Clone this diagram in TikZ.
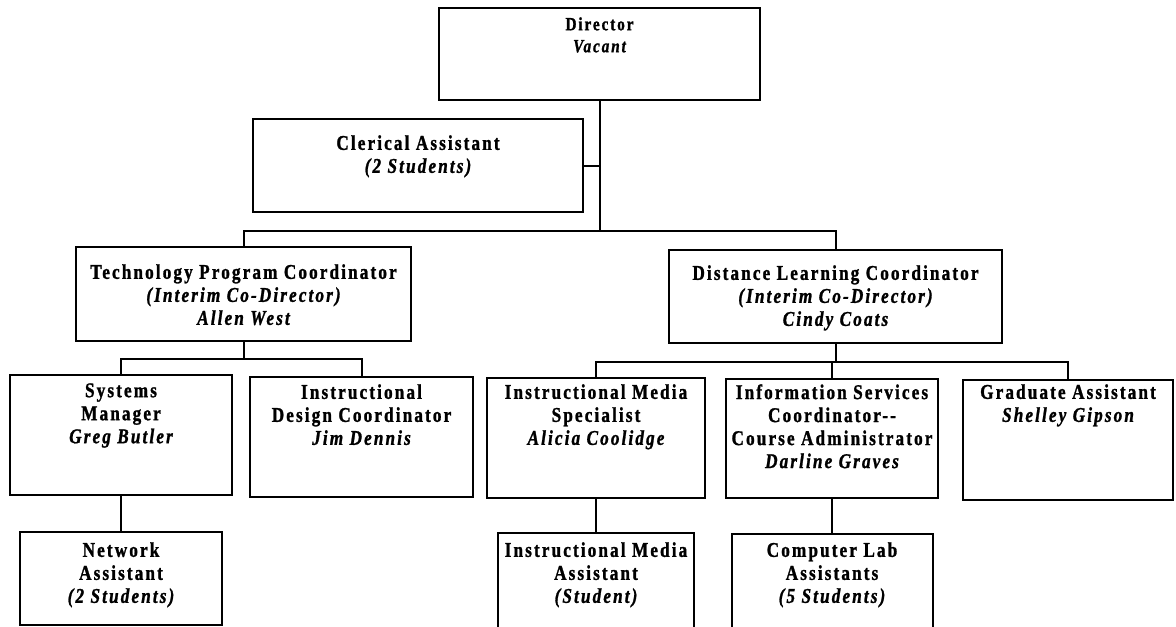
\documentclass[tikz,border=0pt]{standalone}
\usepackage{fontspec}
\setmainfont{Liberation Serif}[FakeStretch=0.82,LetterSpace=10,
  BoldFeatures={FakeBold=1.2},BoldItalicFeatures={FakeBold=1.2}]
\begin{document}
\begin{tikzpicture}[x=0.75pt,y=-0.75pt,
  box/.style={draw=black,line width=1.5pt,inner sep=0pt,fill=white},
  lbl/.style={anchor=north,align=center,inner sep=0pt,text=black,
    font=\fontsize{15.75pt}{17.25pt}\selectfont},
  lbls/.style={anchor=north,align=center,inner sep=0pt,text=black,
    font=\fontsize{14pt}{16.5pt}\selectfont},
  conn/.style={draw=black,line width=1.5pt}]
\clip (0,0) rectangle (1176,626);
\fill[white] (0,0) rectangle (1176,626);

% boxes
\node[box,minimum width=240.75pt,minimum height=69pt]   (dir)  at (599.5,54) {};
\node[box,minimum width=247.5pt,minimum height=69.75pt] (cler) at (418,165.5) {};
\node[box,minimum width=251.25pt,minimum height=70.5pt] (tech) at (243.5,294) {};
\node[box,minimum width=249.75pt,minimum height=69.75pt](dl)   at (835.5,296.5) {};
\node[box,minimum width=166.5pt,minimum height=90pt]    (sys)  at (121,435) {};
\node[box,minimum width=167.25pt,minimum height=90pt]   (idc)  at (361.5,437) {};
\node[box,minimum width=163.5pt,minimum height=90pt]    (ims)  at (596,438) {};
\node[box,minimum width=159pt,minimum height=89.25pt]   (isc)  at (832,438.5) {};
\node[box,minimum width=157.5pt,minimum height=90pt]    (ga)   at (1068,440) {};
\node[box,minimum width=151.5pt,minimum height=69.75pt] (net)  at (121,578.5) {};
\node[box,minimum width=147pt,minimum height=84pt]      (ima)  at (596,589) {};
\node[box,minimum width=150.75pt,minimum height=83.25pt](cla)  at (832,589.5) {};

% texts
\node[lbls] (dirT) at (599.5,17) {\bfseries Director\\\bfseries\itshape Vacant};
\node[lbl] (clerT) at (418,135) {\bfseries Clerical Assistant\\\bfseries\itshape (2 Students)};
\node[lbl] (techT) at (243.5,264) {\bfseries Technology Program Coordinator\\\bfseries\itshape (Interim Co-Director)\\\bfseries\itshape Allen West};
\node[lbl] (dlT) at (835.5,265) {\bfseries Distance Learning Coordinator\\\bfseries\itshape (Interim Co-Director)\\\bfseries\itshape Cindy Coats};
\node[lbl] (sysT) at (121,383) {\bfseries Systems\\\bfseries Manager\\\bfseries\itshape Greg Butler};
\node[lbl] (idcT) at (361.5,384) {\bfseries Instructional\\\bfseries Design Coordinator\\\bfseries\itshape Jim Dennis};
\node[lbl] (imsT) at (596,384) {\bfseries Instructional Media\\\bfseries Specialist\\\bfseries\itshape Alicia Coolidge};
\node[lbl] (iscT) at (832,384) {\bfseries Information Services\\\bfseries Coordinator-{}-\\\bfseries Course Administrator\\\bfseries\itshape Darline Graves};
\node[lbl] (gaT) at (1068,384) {\bfseries Graduate Assistant\\\bfseries\itshape Shelley Gipson};
\node[lbl] (netT) at (121,542) {\bfseries Network\\\bfseries Assistant\\\bfseries\itshape (2 Students)};
\node[lbl] (imaT) at (596,542) {\bfseries Instructional Media\\\bfseries Assistant\\\bfseries\itshape (Student)};
\node[lbl] (claT) at (832,542) {\bfseries Computer Lab\\\bfseries Assistants\\\bfseries\itshape (5 Students)};

% connectors
\coordinate (topbar) at (599.5,231);
\coordinate (tbar) at (243.5,359);
\coordinate (dbar) at (835.5,362);
\draw[conn] (dir.south) -- (topbar);
\draw[conn] (cler.east) -- (cler.east -| dir.south);
\draw[conn] (tech.north) |- (dl.north |- topbar) -- (dl.north);
\draw[conn] (tech.south) -- (tbar);
\draw[conn] (sys.north) |- (idc.north |- tbar) -- (idc.north);
\draw[conn] (sys.south) -- (net.north);
\draw[conn] (dl.south) -- (dbar);
\draw[conn] (ims.north) |- (ga.north |- dbar) -- (ga.north);
\draw[conn] (isc.north) -- (isc.north |- dbar);
\draw[conn] (ims.south) -- (ima.north);
\draw[conn] (isc.south) -- (cla.north);
\end{tikzpicture}
\end{document}
